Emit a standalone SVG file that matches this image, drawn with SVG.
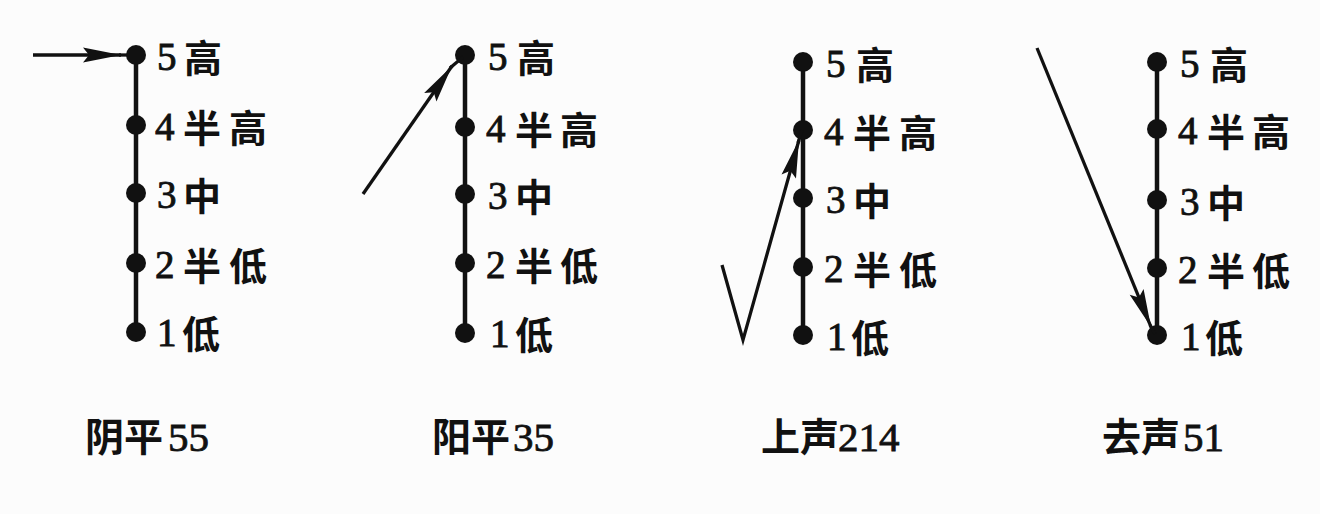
<svg xmlns="http://www.w3.org/2000/svg" width="1320" height="514" viewBox="0 0 1320 514">
<defs>
<style>
.axis{stroke:#111;stroke-width:4.5;fill:none}
.dot{fill:#111}
.arr{stroke:#111;stroke-width:3.3;fill:none}
.num{font-family:"Liberation Serif","Times New Roman",serif;font-size:39px;fill:#111;stroke:#111;stroke-width:0.9}
.cjk{font-family:"Noto Sans CJK SC","Noto Sans CJK TC",sans-serif;font-size:38px;font-weight:700;fill:#111}
.cap{font-family:"Noto Sans CJK SC","Noto Sans CJK TC",sans-serif;font-size:39px;font-weight:700;fill:#111}
.capn{font-family:"Liberation Serif","Times New Roman",serif;font-size:41px;fill:#111;stroke:#111;stroke-width:0.8}
</style>
<marker id="ah" markerUnits="userSpaceOnUse" markerWidth="42" markerHeight="18" viewBox="-38 -9 40 18" refX="0" refY="0" orient="auto">
<path d="M0,0 L-38,-7.5 L-32,0 L-38,7.5 Z" fill="#111"/>
</marker>
</defs>
<rect width="1320" height="514" fill="#fcfcfc"/>

<g id="scale1">
<line class="axis" x1="136" y1="55" x2="136" y2="332"/>
<circle class="dot" cx="136" cy="55" r="10"/>
<circle class="dot" cx="136" cy="125" r="10"/>
<circle class="dot" cx="136" cy="193" r="10"/>
<circle class="dot" cx="136" cy="263" r="10"/>
<circle class="dot" cx="136" cy="332" r="10"/>
<text class="num" x="157" y="70">5</text><text class="cjk" x="184" y="72">高</text>
<text class="num" x="155" y="140">4</text><text class="cjk" x="183" y="142">半</text><text class="cjk" x="229" y="142">高</text>
<text class="num" x="157" y="208">3</text><text class="cjk" x="183" y="210">中</text>
<text class="num" x="155" y="278">2</text><text class="cjk" x="183" y="280">半</text><text class="cjk" x="229" y="280">低</text>
<text class="num" x="157" y="346">1</text><text class="cjk" x="182" y="348">低</text>
</g>

<g id="scale2">
<line class="axis" x1="465" y1="55" x2="465" y2="333"/>
<circle class="dot" cx="465" cy="55" r="10"/>
<circle class="dot" cx="465" cy="127" r="10"/>
<circle class="dot" cx="465" cy="194" r="10"/>
<circle class="dot" cx="465" cy="263" r="10"/>
<circle class="dot" cx="465" cy="333" r="10"/>
<text class="num" x="488" y="70">5</text><text class="cjk" x="517" y="72">高</text>
<text class="num" x="486" y="142">4</text><text class="cjk" x="515" y="144">半</text><text class="cjk" x="560" y="144">高</text>
<text class="num" x="488" y="209">3</text><text class="cjk" x="515" y="211">中</text>
<text class="num" x="486" y="278">2</text><text class="cjk" x="515" y="280">半</text><text class="cjk" x="560" y="280">低</text>
<text class="num" x="490" y="347">1</text><text class="cjk" x="515" y="349">低</text>
</g>

<g id="scale3">
<line class="axis" x1="803" y1="62" x2="803" y2="335"/>
<circle class="dot" cx="803" cy="62" r="10"/>
<circle class="dot" cx="803" cy="130" r="10"/>
<circle class="dot" cx="803" cy="198" r="10"/>
<circle class="dot" cx="803" cy="267" r="10"/>
<circle class="dot" cx="803" cy="335" r="10"/>
<text class="num" x="826" y="77">5</text><text class="cjk" x="856" y="79">高</text>
<text class="num" x="824" y="145">4</text><text class="cjk" x="853" y="147">半</text><text class="cjk" x="899" y="147">高</text>
<text class="num" x="826" y="213">3</text><text class="cjk" x="853" y="215">中</text>
<text class="num" x="824" y="282">2</text><text class="cjk" x="853" y="284">半</text><text class="cjk" x="899" y="284">低</text>
<text class="num" x="827" y="350">1</text><text class="cjk" x="851" y="352">低</text>
</g>

<g id="scale4">
<line class="axis" x1="1157" y1="62" x2="1157" y2="335"/>
<circle class="dot" cx="1157" cy="62" r="10"/>
<circle class="dot" cx="1157" cy="129" r="10"/>
<circle class="dot" cx="1157" cy="200" r="10"/>
<circle class="dot" cx="1157" cy="268" r="10"/>
<circle class="dot" cx="1157" cy="335" r="10"/>
<text class="num" x="1180" y="77">5</text><text class="cjk" x="1210" y="79">高</text>
<text class="num" x="1178" y="144">4</text><text class="cjk" x="1207" y="146">半</text><text class="cjk" x="1252" y="146">高</text>
<text class="num" x="1180" y="215">3</text><text class="cjk" x="1207" y="217">中</text>
<text class="num" x="1178" y="283">2</text><text class="cjk" x="1207" y="285">半</text><text class="cjk" x="1252" y="285">低</text>
<text class="num" x="1181" y="350">1</text><text class="cjk" x="1205" y="352">低</text>
</g>

<g id="connectors">
<line class="arr" x1="33" y1="55" x2="121" y2="55" marker-end="url(#ah)"/>
<line class="arr" x1="119" y1="55" x2="134" y2="55"/>
<line class="arr" x1="363" y1="194" x2="452" y2="66" marker-end="url(#ah)"/>
<line class="arr" x1="450" y1="68" x2="463" y2="57"/>
<polyline class="arr" points="722,265 743,340 799,140" marker-end="url(#ah)"/>
<line class="arr" x1="798" y1="143" x2="802" y2="130"/>
<line class="arr" x1="1037" y1="48" x2="1151" y2="327" marker-end="url(#ah)"/>
<line class="arr" x1="1150" y1="325" x2="1155" y2="334"/>
</g>

<g id="captions">
<text class="cap" x="85" y="451">阴平</text><text class="capn" x="168" y="451">55</text>
<text class="cap" x="432" y="451">阳平</text><text class="capn" x="513" y="451">35</text>
<text class="cap" x="761" y="451">上声</text><text class="capn" x="838" y="451">214</text>
<text class="cap" x="1102" y="451">去声</text><text class="capn" x="1183" y="451">51</text>
</g>
</svg>
